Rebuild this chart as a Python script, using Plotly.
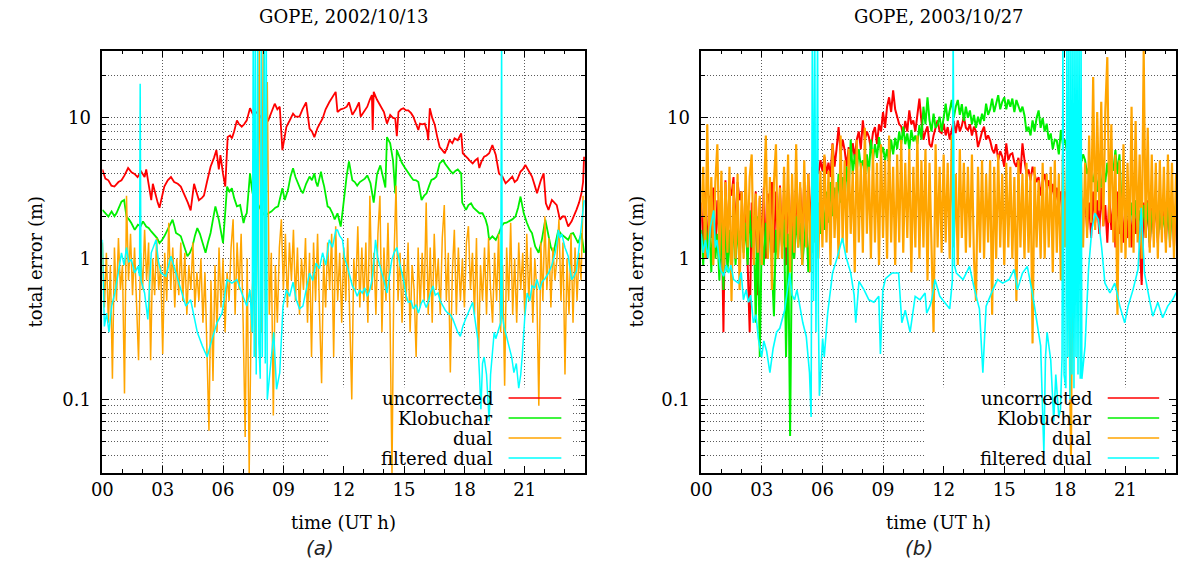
import plotly.graph_objects as go

# ---------------------------------------------------------------
# GOPE station, total positioning error (m) versus time (UT hours)
# ---------------------------------------------------------------

# sampling grid (h) of the densely sampled series
HOURS_01 = [round(i * 0.1, 1) for i in range(240)]

# ---------------- panel (a): 2002/10/13 ----------------
UNCORR_A = [
    (0.0, 4.3), (0.08, 3.9), (0.15, 3.7), (0.3, 3.6), (0.45, 3.3), (0.6, 3.25), (0.8, 3.5),
    (0.95, 3.6), (1.1, 3.9), (1.28, 4.4), (1.45, 4.1), (1.6, 4.0), (1.75, 3.8), (1.93, 4.15),
    (2.1, 3.8), (2.18, 4.3), (2.3, 3.4), (2.43, 2.6), (2.51, 3.4), (2.62, 2.9), (2.75, 2.5),
    (2.84, 2.3), (2.95, 2.7), (3.08, 3.25), (3.25, 3.6), (3.41, 3.8), (3.57, 3.5), (3.75, 3.4),
    (3.9, 3.25), (4.07, 2.9), (4.25, 2.5), (4.39, 2.2), (4.56, 3.4), (4.7, 2.9), (4.8, 2.6),
    (4.95, 2.7), (5.05, 2.8), (5.2, 3.5), (5.38, 4.5), (5.55, 5.2), (5.67, 5.9), (5.79, 4.3),
    (5.87, 5.44), (6.0, 4.0), (6.11, 3.25), (6.23, 7.3), (6.35, 7.5), (6.44, 7.15), (6.55, 8.0),
    (6.69, 9.6), (6.8, 9.0), (6.93, 8.65), (7.05, 9.0), (7.18, 9.6), (7.34, 11.7), (7.5, 10.5),
    (7.7, 11.0), (7.9, 10.0), (8.1, 9.0), (8.25, 9.6), (8.4, 11.0), (8.57, 12.6), (8.7, 11.5),
    (8.82, 12.0), (8.95, 5.9), (9.05, 7.0), (9.15, 8.65), (9.3, 9.5), (9.48, 10.7), (9.6, 10.2),
    (9.8, 10.2), (9.95, 11.5), (10.13, 12.9), (10.3, 8.4), (10.42, 8.0), (10.54, 7.3), (10.7, 8.5),
    (10.95, 9.9), (11.1, 11.5), (11.28, 12.9), (11.45, 14.0), (11.6, 15.3), (11.69, 11.0),
    (11.85, 11.5), (12.02, 11.7), (12.15, 12.0), (12.26, 12.9), (12.43, 10.5), (12.6, 11.5),
    (12.76, 12.9), (12.84, 10.2), (13.0, 11.0), (13.17, 12.0), (13.3, 13.5), (13.4, 14.5),
    (13.44, 8.2), (13.49, 15.3), (13.65, 13.5), (13.82, 12.3), (14.0, 11.0), (14.15, 9.1),
    (14.31, 10.5), (14.45, 10.0), (14.56, 9.9), (14.64, 7.4), (14.72, 11.0), (14.85, 11.5),
    (14.97, 11.7), (15.1, 11.3), (15.21, 11.3), (15.35, 10.8), (15.46, 10.2), (15.6, 9.0),
    (15.71, 8.2), (15.79, 9.1), (15.9, 9.0), (16.03, 9.1), (16.15, 8.0), (16.2, 6.94),
    (16.28, 11.7), (16.4, 10.0), (16.53, 8.9), (16.65, 7.3), (16.77, 6.2), (16.9, 5.9),
    (17.02, 5.6), (17.15, 6.2), (17.26, 6.94), (17.4, 6.6), (17.51, 7.15), (17.67, 6.94),
    (17.84, 7.75), (17.92, 5.6), (18.05, 5.4), (18.17, 5.15), (18.3, 4.9), (18.41, 4.75),
    (18.55, 5.0), (18.66, 5.15), (18.74, 4.4), (18.85, 4.9), (18.98, 5.3), (19.1, 5.4),
    (19.23, 5.6), (19.39, 6.4), (19.56, 5.44), (19.72, 4.03), (19.89, 3.83), (20.05, 3.43),
    (20.2, 3.6), (20.38, 3.83), (20.5, 3.5), (20.62, 3.62), (20.79, 4.15), (20.9, 4.3),
    (21.03, 4.63), (21.2, 4.2), (21.36, 3.83), (21.5, 3.3), (21.61, 2.91), (21.8, 3.6),
    (21.94, 4.03), (22.05, 2.47), (22.18, 2.22), (22.35, 2.61), (22.5, 2.5), (22.59, 2.4),
    (22.75, 1.89), (22.9, 2.0), (23.0, 1.99), (23.16, 1.69), (23.33, 1.84), (23.45, 2.0),
    (23.57, 2.22), (23.7, 2.5), (23.82, 2.91), (23.9, 3.5), (23.95, 5.3),
]

KLOB_A = [
    (0.0, 2.22), (0.13, 2.1), (0.3, 1.99), (0.46, 2.16), (0.6, 2.0), (0.7, 2.1), (0.82, 2.3),
    (0.95, 2.54), (1.08, 2.61), (1.2, 1.99), (1.32, 1.9), (1.44, 1.79), (1.61, 1.6), (1.77, 1.74),
    (1.9, 1.7), (2.02, 1.84), (2.18, 1.69), (2.3, 1.65), (2.43, 1.56), (2.59, 1.48), (2.72, 1.4),
    (2.84, 1.29), (2.96, 1.35), (3.08, 1.44), (3.2, 1.55), (3.33, 1.69), (3.49, 1.89), (3.58, 1.7),
    (3.66, 1.52), (3.8, 1.48), (3.9, 1.44), (4.07, 1.22), (4.23, 1.04), (4.35, 1.1), (4.48, 1.22),
    (4.6, 1.45), (4.72, 1.65), (4.85, 1.5), (4.97, 1.29), (5.13, 1.1), (5.25, 1.3), (5.38, 1.52),
    (5.5, 1.9), (5.62, 2.35), (5.79, 1.89), (5.9, 1.5), (6.0, 1.29), (6.2, 3.25), (6.32, 3.0),
    (6.44, 3.16), (6.55, 2.7), (6.69, 2.35), (6.85, 2.4), (7.02, 1.79), (7.1, 2.0), (7.18, 2.1),
    (7.34, 4.03), (7.45, 3.0), (7.51, 2.76), (7.7, 2.5), (7.9, 2.2), (8.1, 2.0), (8.25, 2.1),
    (8.4, 2.16), (8.49, 2.22), (8.6, 2.3), (8.74, 2.35), (8.95, 3.16), (9.07, 2.61), (9.15, 2.9),
    (9.23, 3.08), (9.35, 3.8), (9.48, 4.38), (9.6, 3.8), (9.72, 3.43), (9.85, 3.1), (9.97, 2.91),
    (10.13, 3.4), (10.3, 3.83), (10.42, 3.6), (10.54, 4.03), (10.62, 3.5), (10.7, 3.25),
    (10.87, 4.15), (10.95, 3.6), (11.03, 3.25), (11.2, 2.35), (11.3, 2.3), (11.44, 2.1),
    (11.55, 1.9), (11.69, 2.1), (11.85, 1.69), (11.95, 2.2), (12.02, 2.76), (12.15, 3.9),
    (12.26, 4.9), (12.35, 4.0), (12.43, 3.6), (12.55, 3.5), (12.67, 3.3), (12.8, 3.5),
    (12.92, 3.62), (13.05, 3.7), (13.17, 3.9), (13.33, 3.43), (13.49, 2.5), (13.58, 3.4),
    (13.66, 4.0), (13.82, 4.6), (13.95, 3.9), (14.07, 3.2), (14.15, 7.3), (14.25, 6.9),
    (14.31, 6.6), (14.45, 5.0), (14.56, 2.9), (14.64, 5.9), (14.75, 5.4), (14.89, 4.8),
    (15.05, 4.4), (15.21, 4.03), (15.35, 3.8), (15.46, 3.62), (15.6, 3.6), (15.71, 3.5),
    (15.87, 2.61), (16.0, 2.8), (16.12, 2.91), (16.25, 3.3), (16.36, 3.62), (16.5, 3.7),
    (16.61, 3.83), (16.77, 4.75), (16.94, 5.0), (17.05, 4.7), (17.18, 4.38), (17.3, 4.2),
    (17.43, 4.03), (17.55, 4.2), (17.67, 4.3), (17.84, 4.03), (17.89, 2.5), (18.0, 2.3),
    (18.08, 2.22), (18.2, 2.4), (18.33, 2.47), (18.45, 2.3), (18.58, 2.22), (18.75, 2.1),
    (18.9, 2.1), (19.05, 1.9), (19.15, 1.69), (19.23, 1.36), (19.39, 1.44), (19.56, 1.36),
    (19.72, 1.52), (19.85, 1.7), (19.97, 1.79), (20.1, 1.8), (20.21, 1.84), (20.38, 1.9),
    (20.54, 1.99), (20.67, 2.3), (20.79, 2.76), (20.95, 2.1), (21.11, 1.79), (21.25, 1.6),
    (21.36, 1.52), (21.52, 1.22), (21.69, 1.1), (21.85, 1.36), (22.02, 1.89), (22.18, 1.44),
    (22.3, 1.2), (22.43, 1.1), (22.55, 1.35), (22.67, 1.6), (22.8, 1.5), (22.92, 1.44),
    (23.05, 1.4), (23.16, 1.36), (23.3, 1.5), (23.41, 1.52), (23.55, 1.4), (23.66, 1.29),
    (23.82, 1.52), (23.95, 1.1),
]

# dual-frequency solution, one value every 0.1 h (one row per hour)
DUAL_A = [
    1.3, 0.45, 1.1, 0.35, 0.9, 0.14, 1.2, 0.5, 1.4, 0.6,
    0.9, 0.11, 2.8, 0.7, 1.5, 0.55, 1.2, 0.5, 0.19, 1.1,
    0.6, 1.6, 0.7, 1.3, 0.19, 1.0, 0.55, 1.4, 0.6, 0.9,
    0.21, 1.1, 0.5, 1.8, 0.6, 1.2, 0.45, 1.0, 0.55, 1.3,
    0.5, 1.1, 0.4, 0.9, 0.6, 1.3, 0.45, 0.8, 0.5, 1.0,
    0.35, 0.8, 0.25, 0.06, 0.7, 0.135, 0.9, 0.3, 1.2, 0.45,
    1.0, 0.3, 0.8, 0.5, 1.2, 1.9, 0.4, 1.3, 0.6, 1.5,
    0.35, 0.054, 1.0, 0.03, 0.4, 0.8, 0.2, 1.2, 30.0, 0.3,
    40.0, 0.5, 18.0, 0.4, 1.1, 0.077, 0.9, 0.35, 1.2, 1.9,
    0.6, 1.5, 0.45, 1.3, 0.7, 1.6, 0.5, 1.2, 0.4, 1.0,
    0.6, 1.4, 0.35, 1.1, 0.2, 1.3, 0.5, 1.5, 0.4, 0.13,
    1.0, 0.45, 1.3, 0.6, 1.5, 0.2, 1.7, 0.5, 1.1, 0.35,
    1.2, 0.5, 1.4, 0.3, 0.1, 1.0, 0.6, 1.7, 0.45, 1.2,
    0.5, 1.3, 0.35, 2.8, 0.6, 1.1, 0.4, 1.5, 2.8, 0.3,
    1.2, 0.5, 1.8, 0.4, 0.03, 1.0, 3.3, 0.5, 1.1, 0.35,
    1.0, 0.5, 1.3, 0.3, 0.9, 0.6, 0.2, 1.2, 0.45, 1.1,
    0.5, 2.5, 0.4, 1.2, 0.35, 1.5, 0.6, 1.0, 0.4, 1.4,
    2.4, 0.5, 1.1, 0.155, 0.8, 1.6, 0.4, 1.2, 0.5, 1.0,
    0.45, 1.3, 1.7, 0.6, 1.1, 0.4, 1.4, 0.2, 0.9, 0.5,
    1.2, 0.4, 1.4, 0.6, 0.35, 1.1, 0.5, 1.5, 0.3, 0.9,
    0.125, 1.2, 0.5, 1.8, 0.4, 1.0, 0.35, 1.3, 0.6, 1.1,
    0.4, 1.5, 0.5, 1.2, 0.35, 1.0, 0.6, 0.09, 1.3, 0.5,
    2.0, 0.6, 1.4, 0.45, 1.2, 0.7, 1.0, 1.9, 0.5, 1.3,
    0.15, 1.0, 0.4, 1.5, 0.35, 1.2, 0.5, 1.1, 0.7, 2.8,
]

FILT_A = [
    (0.0, 1.36), (0.1, 0.33), (0.21, 0.41), (0.33, 0.3), (0.46, 0.46), (0.62, 0.57), (0.79, 0.79),
    (0.95, 1.1), (1.08, 0.9), (1.2, 1.2), (1.31, 0.95), (1.44, 0.98), (1.61, 0.79), (1.77, 0.88),
    (1.85, 0.75), (1.88, 17.5), (1.92, 0.7), (2.1, 0.57), (2.26, 0.37), (2.43, 1.1), (2.67, 1.36),
    (2.79, 0.95), (2.92, 0.79), (3.16, 0.75), (3.41, 1.04), (3.66, 0.79), (3.9, 0.6), (4.15, 0.46),
    (4.39, 0.51), (4.56, 0.38), (4.72, 0.3), (4.97, 0.24), (5.21, 0.2), (5.46, 0.27), (5.7, 0.35),
    (5.95, 0.41), (6.2, 0.71), (6.44, 0.67), (6.69, 0.71), (6.93, 0.57), (7.18, 0.46), (7.34, 0.6),
    (7.45, 0.3), (7.5, 40.0), (7.55, 0.2), (7.6, 40.0), (7.65, 0.15), (7.72, 40.0), (7.78, 0.25),
    (7.85, 0.14), (7.9, 40.0), (7.95, 0.2), (8.05, 40.0), (8.1, 0.18), (8.15, 40.0), (8.2, 0.1),
    (8.41, 0.2), (8.52, 0.3), (8.66, 0.118), (8.82, 0.155), (8.98, 0.46), (9.15, 0.6), (9.31, 0.54),
    (9.48, 0.68), (9.64, 0.51), (9.8, 0.44), (9.97, 0.46), (10.13, 0.6), (10.3, 0.79), (10.46, 0.7),
    (10.62, 0.93), (10.79, 0.85), (10.95, 1.1), (11.11, 0.9), (11.28, 1.36), (11.44, 1.2),
    (11.61, 1.6), (11.69, 1.6), (11.8, 1.45), (11.94, 1.36), (12.05, 1.0), (12.18, 0.88),
    (12.3, 0.75), (12.43, 0.64), (12.55, 0.6), (12.67, 0.54), (12.8, 0.6), (12.92, 0.57),
    (13.05, 0.62), (13.17, 0.54), (13.3, 0.6), (13.41, 0.71), (13.5, 0.95), (13.58, 1.36),
    (13.7, 1.0), (13.82, 0.88), (14.0, 0.7), (14.15, 0.57), (14.28, 0.75), (14.39, 0.98),
    (14.5, 1.1), (14.64, 1.2), (14.8, 0.9), (14.97, 0.71), (15.1, 0.55), (15.21, 0.49),
    (15.35, 0.5), (15.46, 0.44), (15.6, 0.47), (15.71, 0.41), (15.85, 0.48), (15.95, 0.51),
    (16.1, 0.45), (16.2, 0.49), (16.32, 0.58), (16.44, 0.64), (16.55, 0.55), (16.69, 0.57),
    (16.8, 0.5), (16.94, 0.46), (17.05, 0.43), (17.18, 0.41), (17.3, 0.4), (17.43, 0.37),
    (17.55, 0.33), (17.67, 0.3), (17.8, 0.28), (17.92, 0.33), (18.05, 0.37), (18.17, 0.41),
    (18.3, 0.45), (18.41, 0.49), (18.55, 0.35), (18.66, 0.27), (18.75, 0.15), (18.82, 0.085),
    (18.9, 0.18), (18.98, 0.2), (19.1, 0.15), (19.23, 0.07), (19.3, 0.15), (19.39, 0.22),
    (19.48, 0.3), (19.56, 0.27), (19.65, 0.3), (19.72, 0.32), (19.8, 0.35), (19.85, 40.0),
    (19.88, 0.4), (19.97, 0.33), (20.1, 0.28), (20.21, 0.24), (20.35, 0.2), (20.46, 0.155),
    (20.58, 0.18), (20.7, 0.12), (20.8, 0.15), (20.87, 0.2), (21.0, 0.38), (21.12, 0.57),
    (21.25, 0.5), (21.36, 0.64), (21.5, 0.62), (21.61, 0.71), (21.75, 0.6), (21.85, 0.68),
    (22.0, 0.72), (22.18, 0.79), (22.35, 0.9), (22.51, 1.1), (22.6, 1.3), (22.67, 1.6),
    (22.75, 1.4), (22.84, 1.5), (23.0, 1.2), (23.16, 1.04), (23.25, 0.85), (23.33, 0.71),
    (23.45, 0.75), (23.57, 0.82), (23.7, 1.2), (23.82, 1.7), (23.95, 2.6),
]

# ---------------- panel (b): 2003/10/27 ----------------
# the three unfiltered series sampled every 0.1 h (one row per hour)
UNCORR_B = [
    2.5, 1.2, 3.0, 1.0, 2.8, 1.4, 3.2, 1.1, 2.6, 1.3,
    3.0, 0.3, 3.6, 1.2, 3.2, 2.8, 3.8, 1.5, 3.5, 2.6,
    3.0, 1.2, 2.8, 0.9, 0.3, 2.5, 1.0, 3.0, 0.55, 2.7,
    1.2, 3.2, 1.0, 2.9, 1.4, 3.5, 1.1, 3.0, 1.3, 3.3,
    1.2, 3.0, 0.9, 3.4, 1.3, 3.1, 1.0, 3.6, 1.4, 3.2,
    1.5, 3.5, 1.3, 4.0, 1.6, 3.8, 1.4, 4.5, 4.0, 5.0,
    4.2, 5.3, 4.0, 4.8, 3.8, 6.6, 4.5, 6.0, 8.6, 5.5,
    7.0, 5.9, 4.5, 6.2, 5.0, 6.6, 5.2, 7.0, 8.0, 6.0,
    9.6, 7.0, 8.0, 7.3, 6.0, 7.8, 8.6, 6.5, 9.0, 8.0,
    11.0, 8.5, 12.0, 14.0, 11.0, 15.7, 11.5, 10.2, 9.0, 8.7,
    7.5, 9.5, 8.0, 11.3, 9.0, 9.6, 8.0, 10.5, 13.7, 9.5,
    7.0, 8.0, 8.7, 6.5, 6.2, 7.5, 8.5, 9.6, 8.0, 7.8,
    9.1, 7.5, 8.6, 7.0, 8.2, 9.5, 7.8, 9.6, 8.0, 8.8,
    10.2, 8.5, 8.2, 9.0, 7.5, 8.65, 8.0, 6.2, 7.0, 8.0,
    8.65, 7.0, 7.5, 6.9, 6.0, 5.6, 6.5, 5.0, 5.8, 5.3,
    4.5, 6.6, 5.0, 5.5, 5.6, 4.8, 4.5, 5.2, 4.0, 6.6,
    5.0, 4.0, 4.3, 3.6, 4.5, 4.0, 3.5, 3.8, 2.8, 3.5,
    4.0, 3.2, 3.6, 2.8, 3.4, 2.5, 3.2, 2.2, 3.0, 2.4,
    3.0, 1.8, 2.8, 1.5, 2.6, 1.8, 3.2, 1.6, 2.7, 2.0,
    2.8, 1.6, 2.5, 1.4, 3.0, 1.8, 2.6, 1.5, 3.2, 1.7,
    2.4, 1.3, 2.8, 1.6, 2.5, 1.2, 3.0, 1.5, 2.4, 1.3,
    2.6, 1.4, 2.3, 1.2, 2.8, 1.5, 2.2, 1.3, 0.65, 2.5,
    1.4, 2.6, 1.2, 2.3, 1.5, 2.8, 1.3, 2.4, 1.6, 2.6,
    1.3, 2.5, 1.5, 2.8, 1.2, 2.4, 1.6, 2.7, 1.4, 2.5,
]

KLOB_B = [
    1.6, 0.9, 2.0, 1.1, 1.8, 0.8, 2.2, 1.0, 1.5, 0.7,
    1.8, 0.6, 2.0, 0.8, 1.6, 0.7, 2.1, 0.9, 1.7, 1.0,
    2.0, 1.1, 1.8, 0.9, 2.2, 1.2, 1.9, 0.35, 2.0, 0.2,
    1.5, 0.9, 1.8, 1.0, 2.0, 0.8, 0.39, 1.6, 1.0, 2.1,
    1.2, 1.9, 0.2, 1.5, 0.055, 1.7, 1.0, 2.0, 1.2, 1.8,
    0.9, 1.3, 2.0, 0.8, 1.6, 1.1, 2.2, 1.3, 2.5, 1.5,
    2.6, 1.6, 3.0, 1.8, 3.5, 2.0, 3.2, 2.2, 4.0, 2.5,
    3.8, 2.6, 4.5, 3.0, 7.0, 4.0, 5.5, 4.2, 6.0, 4.5,
    5.0, 3.8, 5.5, 4.0, 7.0, 5.0, 6.5, 5.2, 7.3, 5.5,
    6.2, 5.0, 6.0, 4.8, 7.0, 5.5, 7.2, 6.0, 8.0, 6.5,
    8.65, 6.5, 7.75, 6.0, 8.2, 6.8, 7.5, 6.5, 8.9, 7.0,
    12.0, 9.0, 14.0, 9.6, 8.0, 10.7, 8.5, 9.0, 10.2, 8.0,
    10.5, 12.6, 9.5, 11.5, 13.4, 10.0, 12.0, 13.4, 10.5, 12.5,
    9.5, 12.0, 10.0, 11.3, 9.0, 10.5, 8.5, 10.2, 9.0, 10.7,
    9.5, 12.6, 10.5, 11.5, 13.7, 11.0, 12.5, 14.5, 11.5, 13.0,
    14.0, 11.5, 13.5, 12.0, 13.7, 11.0, 13.4, 12.0, 11.0, 12.0,
    10.4, 8.0, 8.65, 7.5, 9.6, 8.0, 10.0, 11.3, 8.5, 10.0,
    8.0, 9.1, 7.0, 7.75, 6.0, 7.0, 6.9, 5.5, 8.2, 6.5,
    7.0, 5.8, 7.5, 6.0, 6.5, 5.5, 6.0, 5.9, 4.8, 5.5,
    5.0, 4.0, 4.5, 4.0, 3.5, 4.2, 3.0, 4.0, 3.2, 4.5,
    3.5, 4.8, 3.6, 5.0, 4.2, 5.9, 4.0, 5.5, 2.5, 3.0,
    2.0, 2.8, 1.6, 2.5, 1.8, 2.6, 1.5, 2.2, 1.7, 2.4,
    1.6, 2.5, 1.3, 2.2, 1.8, 2.6, 1.4, 2.3, 1.6, 2.0,
    1.5, 2.4, 1.3, 2.2, 1.7, 2.5, 1.4, 2.1, 1.6, 2.3,
]

DUAL_B = [
    2.0, 4.5, 1.0, 9.0, 1.2, 3.8, 0.9, 3.5, 6.5, 1.0,
    4.2, 0.8, 3.5, 1.1, 4.5, 0.5, 3.4, 1.0, 4.0, 0.6,
    3.0, 1.0, 4.5, 1.2, 3.8, 5.5, 0.9, 2.9, 1.1, 2.8,
    0.9, 3.0, 7.5, 1.0, 3.8, 0.6, 3.5, 6.5, 1.0, 3.2,
    1.0, 4.5, 1.2, 5.5, 0.8, 4.0, 1.1, 6.5, 1.2, 3.5,
    0.9, 5.0, 1.2, 4.0, 0.8, 4.5, 1.3, 3.6, 1.0, 4.2,
    1.2, 5.5, 1.3, 4.2, 0.9, 6.5, 1.4, 3.5, 1.0, 7.5,
    1.3, 5.0, 1.1, 6.0, 1.5, 4.2, 0.8, 7.0, 1.3, 4.8,
    1.1, 8.5, 1.5, 4.5, 1.0, 6.0, 1.3, 4.8, 0.9, 6.5,
    1.4, 5.0, 1.0, 7.5, 1.3, 4.5, 0.9, 5.5, 1.3, 7.0,
    1.1, 4.8, 1.4, 6.0, 0.8, 4.5, 1.2, 7.5, 1.0, 5.0,
    1.2, 6.0, 0.7, 4.8, 1.1, 0.3, 6.5, 1.2, 4.5, 1.1,
    5.5, 1.3, 4.8, 1.0, 7.5, 1.2, 4.0, 0.9, 6.0, 1.4,
    4.8, 1.1, 4.5, 1.2, 5.5, 1.0, 0.5, 4.5, 1.1, 5.0,
    1.0, 4.0, 1.3, 5.0, 0.4, 4.5, 1.0, 5.5, 1.2, 4.0,
    0.9, 4.8, 1.2, 4.5, 1.0, 3.8, 0.5, 5.0, 1.2, 4.0,
    1.0, 4.8, 1.1, 4.0, 0.25, 4.5, 1.2, 3.6, 1.0, 4.8,
    1.0, 4.0, 1.2, 4.5, 0.8, 5.0, 1.1, 4.0, 0.7, 5.5,
    1.2, 4.5, 0.8, 0.04, 4.8, 1.1, 5.5, 0.7, 4.5, 1.2,
    4.8, 1.4, 7.5, 1.8, 19.5, 1.6, 11.0, 2.2, 13.0, 1.7,
    11.0, 27.0, 1.8, 9.0, 1.3, 5.5, 0.4, 5.0, 1.1, 6.5,
    1.0, 4.8, 1.2, 12.0, 1.1, 9.5, 1.3, 5.5, 1.0, 30.0,
    1.4, 8.5, 1.1, 5.5, 1.2, 4.8, 1.0, 5.0, 1.3, 4.5,
    1.1, 5.5, 1.2, 4.8, 1.0, 4.0, 1.2, 5.0, 1.1, 4.5,
]

FILT_B = [
    (0.0, 1.5), (0.1, 1.1), (0.21, 1.36), (0.33, 1.0), (0.46, 1.69), (0.62, 2.2), (0.7, 1.2),
    (0.78, 1.36), (0.95, 0.84), (1.11, 0.75), (1.24, 0.9), (1.36, 0.79), (1.47, 0.9), (1.6, 0.71),
    (1.85, 0.67), (1.98, 0.8), (2.09, 0.51), (2.22, 0.6), (2.34, 0.49), (2.45, 0.55), (2.58, 0.35),
    (2.71, 0.4), (2.83, 0.27), (2.99, 0.2), (3.1, 0.26), (3.24, 0.22), (3.4, 0.155), (3.56, 0.23),
    (3.73, 0.3), (3.89, 0.32), (4.13, 0.43), (4.25, 0.6), (4.38, 0.79), (4.5, 0.55), (4.62, 0.51),
    (4.74, 0.6), (4.87, 0.46), (5.03, 0.35), (5.2, 0.28), (5.36, 0.155), (5.44, 0.075),
    (5.5, 40.0), (5.56, 0.5), (5.62, 40.0), (5.68, 0.3), (5.76, 40.0), (5.8, 0.4), (5.85, 0.106),
    (6.01, 0.27), (6.09, 0.2), (6.26, 0.41), (6.5, 0.79), (6.75, 1.04), (6.99, 1.4), (7.16, 1.04),
    (7.4, 0.79), (7.57, 0.55), (7.65, 0.35), (7.81, 0.69), (8.06, 0.6), (8.3, 0.51), (8.55, 0.49),
    (8.79, 0.54), (8.87, 0.21), (8.99, 0.6), (9.12, 0.72), (9.44, 0.79), (9.77, 0.79), (9.93, 0.35),
    (10.1, 0.43), (10.34, 0.3), (10.59, 0.54), (10.83, 0.51), (11.08, 0.57), (11.16, 0.41),
    (11.32, 0.46), (11.41, 0.51), (11.57, 0.71), (11.81, 0.54), (12.06, 0.49), (12.3, 0.44),
    (12.43, 0.7), (12.47, 40.0), (12.53, 0.9), (12.63, 0.79), (12.96, 0.71), (13.28, 0.88),
    (13.53, 0.6), (13.77, 0.44), (13.94, 0.155), (14.1, 0.46), (14.43, 0.6), (14.67, 0.71),
    (14.92, 0.67), (15.24, 0.71), (15.49, 0.84), (15.65, 0.6), (15.9, 0.79), (16.14, 0.88),
    (16.39, 0.57), (16.63, 0.35), (16.8, 0.24), (16.96, 0.042), (17.04, 0.2), (17.12, 0.3),
    (17.3, 0.19), (17.45, 0.07), (17.55, 0.15), (17.7, 0.075), (17.78, 0.085), (17.86, 0.2),
    (17.9, 40.0), (17.96, 0.15), (18.05, 0.12), (18.1, 40.0), (18.15, 0.2), (18.2, 40.0),
    (18.25, 0.1), (18.3, 40.0), (18.35, 0.15), (18.4, 40.0), (18.45, 0.12), (18.5, 40.0),
    (18.55, 0.2), (18.6, 40.0), (18.65, 0.15), (18.7, 40.0), (18.76, 0.14), (18.8, 40.0),
    (18.84, 0.14), (19.0, 0.24), (19.17, 0.84), (19.33, 1.6), (19.49, 2.1), (19.66, 1.9),
    (19.82, 1.2), (19.98, 0.67), (20.23, 0.57), (20.47, 0.67), (20.72, 0.46), (20.96, 0.35),
    (21.13, 0.46), (21.37, 0.6), (21.62, 0.84), (21.78, 2.3), (21.94, 0.79), (22.19, 0.51),
    (22.35, 0.39), (22.6, 0.49), (22.84, 0.38), (23.09, 0.46), (23.33, 0.51), (23.5, 0.57),
    (23.7, 0.6),
]

SERIES_NAMES = ["uncorrected", "Klobuchar", "dual", "filtered dual"]
SERIES_COLORS = ["#ff0000", "#00f000", "#ffa500", "#00ffff"]
# stroke widths per panel, in series order
WIDTHS = [[1.8, 1.8, 1.5, 1.5], [2.0, 2.0, 2.2, 1.6]]

X_TICKS = [0, 3, 6, 9, 12, 15, 18, 21]
X_TICKTEXT = ["00", "03", "06", "09", "12", "15", "18", "21"]
Y_TICKS = [0.1, 1, 10]
Y_TICKTEXT = ["0.1", "1", "10"]
Y_MINOR = [0.04, 0.05, 0.06, 0.07, 0.08, 0.09,
           0.2, 0.3, 0.4, 0.5, 0.6, 0.7, 0.8, 0.9,
           2, 3, 4, 5, 6, 7, 8, 9, 20]

TITLES = ["GOPE, 2002/10/13", "GOPE, 2003/10/27"]
CAPTIONS = ["(a)", "(b)"]

# ---------------------------------------------------------------
W, H = 1178, 565
SERIF = "DejaVu Serif"
FS = 18
GRID = "#5a5a5a"
DOT = "1px,2px"

# plot-area placement in pixels: (left, right, last hour shown)
PANELS = [(92.3, 580.0, 24.0), (697.3, 1177.0, 23.5)]
TOP, BOTTOM = 50.7, 473.0
# key: box edges, text right edge, sample line ends (pixels)
KEY = [dict(box=(321, 567), text=489, line=(502.7, 556)),
       dict(box=(924, 1172), text=1094, line=(1108, 1160))]
KEY_TOP = 388
KEY_ROWS = [398, 418, 438, 458]


def split(pairs):
    return [p[0] for p in pairs], [p[1] for p in pairs]


def px_to_hour(px, k):
    x0, x1, xmax = PANELS[k]
    return (px - x0) / (x1 - x0) * xmax


panel_data = [
    [split(UNCORR_A), split(KLOB_A), (HOURS_01, DUAL_A), split(FILT_A)],
    [(HOURS_01, UNCORR_B), (HOURS_01, KLOB_B), (HOURS_01, DUAL_B), split(FILT_B)],
]

fig = go.Figure()
for k, series in enumerate(panel_data):
    xa = "x" if k == 0 else "x2"
    ya = "y" if k == 0 else "y2"
    # white key background: above the grid, below the curves
    bx0 = px_to_hour(KEY[k]["box"][0], k)
    bx1 = px_to_hour(KEY[k]["box"][1], k)
    ktop = 10 ** (1 - (KEY_TOP - 117.7) / 141.3)
    fig.add_trace(go.Scatter(x=[bx0, bx1, bx1, bx0, bx0], y=[0.01, 0.01, ktop, ktop, 0.01],
                             mode="lines", fill="toself", fillcolor="white",
                             line=dict(width=0, color="white"), xaxis=xa, yaxis=ya,
                             showlegend=False, hoverinfo="skip"))
    for (t, v), name, col, lw in zip(series, SERIES_NAMES, SERIES_COLORS, WIDTHS[k]):
        fig.add_trace(go.Scatter(x=t, y=v, mode="lines", name=name, xaxis=xa, yaxis=ya,
                                 line=dict(color=col, width=lw), showlegend=False,
                                 hoverinfo="skip"))

layout = dict(width=W, height=H, margin=dict(l=0, r=0, t=0, b=0),
              paper_bgcolor="white", plot_bgcolor="white",
              font=dict(family=SERIF, size=FS, color="black"))

ydom = [(H - BOTTOM) / H, (H - TOP) / H]
shapes, annos = [], []
for k, (px0, px1, xmax) in enumerate(PANELS):
    sfx = "" if k == 0 else "2"
    layout["xaxis" + sfx] = dict(
        domain=[px0 / W, px1 / W], range=[0, xmax], anchor="y" + sfx,
        tickvals=X_TICKS, ticktext=X_TICKTEXT, ticks="inside", ticklen=7, tickcolor="black",
        showline=True, linecolor="black", linewidth=1.5, mirror="allticks",
        showgrid=True, gridcolor=GRID, griddash=DOT, gridwidth=1, zeroline=False,
        tickfont=dict(family=SERIF, size=FS),
        minor=dict(dtick=1, ticks="inside", ticklen=4, tickcolor="black", showgrid=False),
    )
    layout["yaxis" + sfx] = dict(
        domain=ydom, type="log", range=[-1.5229, 1.4771], anchor="x" + sfx,
        tickvals=Y_TICKS, ticktext=Y_TICKTEXT, ticks="inside", ticklen=7, tickcolor="black",
        showline=True, linecolor="black", linewidth=1.5, mirror="allticks",
        showgrid=True, gridcolor=GRID, griddash=DOT, gridwidth=1, zeroline=False,
        tickfont=dict(family=SERIF, size=FS), ticklabelstandoff=6,
        minor=dict(tickvals=Y_MINOR, ticks="inside", ticklen=4, tickcolor="black",
                   showgrid=True, gridcolor=GRID, griddash=DOT, gridwidth=1),
    )

    # key entries: right-aligned label, sample line to its right
    for i, (name, col) in enumerate(zip(SERIES_NAMES, SERIES_COLORS)):
        yp = (H - KEY_ROWS[i]) / H
        annos.append(dict(text=name, x=KEY[k]["text"] / W, y=yp, xref="paper", yref="paper",
                          xanchor="right", yanchor="middle", showarrow=False,
                          font=dict(family=SERIF, size=FS)))
        shapes.append(dict(type="line", xref="paper", yref="paper",
                           x0=KEY[k]["line"][0] / W, x1=KEY[k]["line"][1] / W, y0=yp, y1=yp,
                           line=dict(color=col, width=1.5), layer="above"))

    cx = (px0 + px1) / 2 / W
    annos.append(dict(text=TITLES[k], x=cx, y=(H - 16) / H, xref="paper", yref="paper",
                      xanchor="center", yanchor="middle", showarrow=False,
                      font=dict(family=SERIF, size=FS)))
    annos.append(dict(text="time (UT h)", x=cx, y=(H - 522) / H, xref="paper", yref="paper",
                      xanchor="center", yanchor="middle", showarrow=False,
                      font=dict(family=SERIF, size=FS)))
    annos.append(dict(text="total error (m)", x=(25 if k == 0 else 632) / W,
                      y=(H - (TOP + BOTTOM) / 2) / H, xref="paper", yref="paper",
                      xanchor="center", yanchor="middle", textangle=-90, showarrow=False,
                      font=dict(family=SERIF, size=FS)))
    annos.append(dict(text="<i>" + CAPTIONS[k] + "</i>", x=(312 if k == 0 else 917) / W,
                      y=(H - 548) / H, xref="paper", yref="paper", xanchor="center",
                      yanchor="middle", showarrow=False,
                      font=dict(family="DejaVu Sans", size=20, color="#222")))

layout["shapes"] = shapes
layout["annotations"] = annos
fig.update_layout(**layout)
fig.write_html("out.html")
